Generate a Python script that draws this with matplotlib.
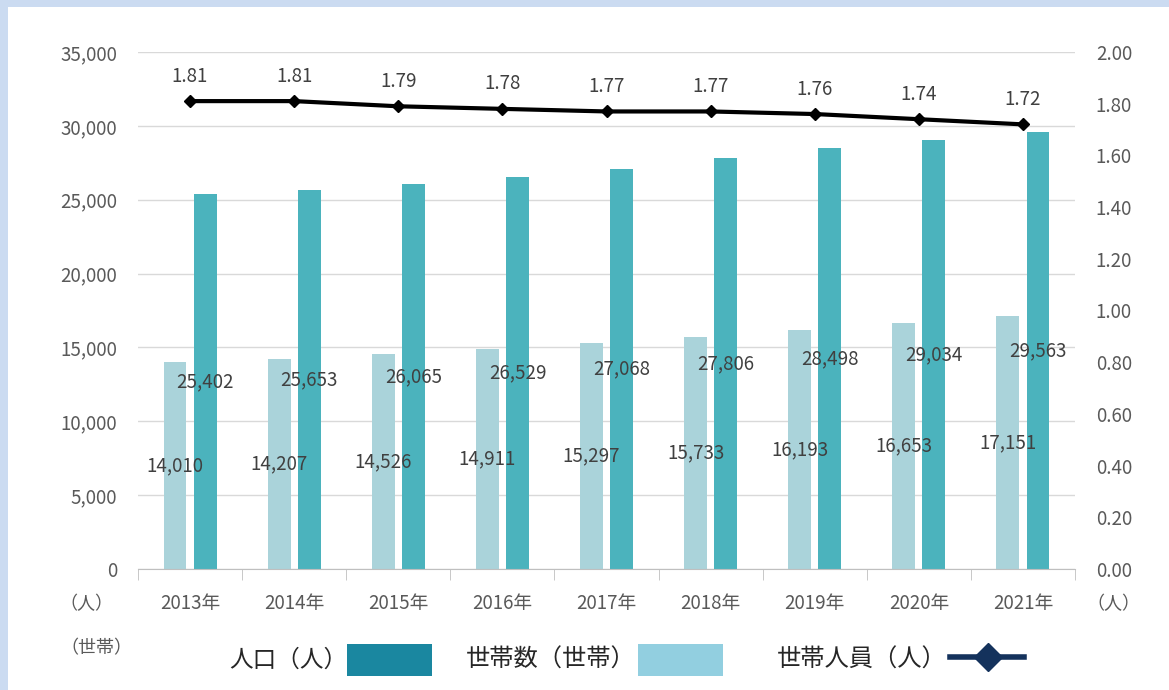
import matplotlib.pyplot as plt
from matplotlib.patches import Rectangle
from matplotlib.lines import Line2D

plt.rcParams['font.family'] = ['Noto Sans CJK JP', 'DejaVu Sans']

years = ['2013年', '2014年', '2015年', '2016年', '2017年', '2018年', '2019年', '2020年', '2021年']
population = [25402, 25653, 26065, 26529, 27068, 27806, 28498, 29034, 29563]
households = [14010, 14207, 14526, 14911, 15297, 15733, 16193, 16653, 17151]
members = [1.81, 1.81, 1.79, 1.78, 1.77, 1.77, 1.76, 1.74, 1.72]

W, H = 1169, 690
c_light = '#aad3da'
c_teal = '#4bb3bd'
c_text = '#595959'
c_label = '#404040'
fs = 13.5

def fx(px):
    return px / W

def fy(py):
    return 1 - py / H

fig = plt.figure(figsize=(W / 100, H / 100), dpi=100)
fig.patch.set_facecolor('#cbdbf1')
fig.patches.append(Rectangle((fx(8), 0), 1, fy(7), transform=fig.transFigure,
                             facecolor='white', edgecolor='none', zorder=-10))

ax = fig.add_axes([fx(138), fy(569), fx(1075) - fx(138), fy(52) - fy(569)])
ax.set_facecolor('none')
x = list(range(len(years)))
off = 0.145
bw = 0.22
ax.bar([i - off for i in x], households, width=bw, color=c_light, zorder=2)
ax.bar([i + off for i in x], population, width=bw, color=c_teal, zorder=2)

for i in x:
    ax.text(i - off, households[i] / 2, f'{households[i]:,}', ha='center', va='center',
            fontsize=fs, color=c_label, zorder=5)
    ax.text(i + off, population[i] / 2, f'{population[i]:,}', ha='center', va='center',
            fontsize=fs, color=c_label, zorder=5)

ax.set_xlim(-0.5, len(years) - 0.5)
ax.set_ylim(0, 35000)
ax.set_yticks(range(0, 35001, 5000))
ax.set_yticklabels([f'{v:,}' for v in range(0, 35001, 5000)])
ax.grid(axis='y', color='#d9d9d9', linewidth=1, zorder=0)
ax.set_axisbelow(True)
ax.set_xticks(x)
ax.set_xticklabels(years)
ax.set_xticks([i - 0.5 for i in range(len(years) + 1)], minor=True)
ax.tick_params(axis='x', which='major', length=0, pad=17, labelsize=fs, labelcolor=c_text)
ax.tick_params(axis='x', which='minor', length=8, color='#bfbfbf', direction='out')
ax.tick_params(axis='y', length=0, pad=15, labelsize=fs, labelcolor=c_text)
for s in ['top', 'left', 'right']:
    ax.spines[s].set_visible(False)
ax.spines['bottom'].set_color('#bfbfbf')

ax2 = ax.twinx()
ax2.set_ylim(0, 2)
ax2.set_yticks([i * 0.2 for i in range(11)])
ax2.set_yticklabels([f'{i * 0.2:.2f}' for i in range(11)])
ax2.tick_params(axis='y', length=0, pad=15, labelsize=fs, labelcolor=c_text)
for s in ax2.spines.values():
    s.set_visible(False)
ax2.plot(x, members, color='black', linewidth=3, marker='D', markersize=6, zorder=4)
for i in x:
    ax2.annotate(f'{members[i]:.2f}', (i, members[i]), xytext=(0, 25), textcoords='offset pixels',
                 ha='center', va='center', fontsize=fs, color=c_label)

# unit labels
fig.text(fx(86), fy(604), '（人）', ha='center', va='center', fontsize=13, color=c_text)
fig.text(fx(96), fy(648), '（世帯）', ha='center', va='center', fontsize=13, color=c_text)
fig.text(fx(1113), fy(604), '（人）', ha='center', va='center', fontsize=13, color=c_text)

# legend
fig.text(fx(229), fy(660), '人口（人）', ha='left', va='center', fontsize=17, color='#262626')
fig.patches.append(Rectangle((fx(347), fy(676)), fx(85), fy(644) - fy(676),
                             transform=fig.transFigure, facecolor='#1a87a0', edgecolor='none'))
fig.text(fx(466), fy(660), '世帯数（世帯）', ha='left', va='center', fontsize=17.5, color='#262626')
fig.patches.append(Rectangle((fx(638), fy(676)), fx(85), fy(644) - fy(676),
                             transform=fig.transFigure, facecolor='#92cfe0', edgecolor='none'))
fig.text(fx(777), fy(660), '世帯人員（人）', ha='left', va='center', fontsize=17.5, color='#262626')
fig.lines.append(Line2D([fx(950), fx(1024)], [fy(657), fy(657)], transform=fig.transFigure,
                        color='#14325c', linewidth=4))
fig.lines.append(Line2D([fx(988)], [fy(657)], transform=fig.transFigure, marker='D',
                        markersize=14, color='#14325c', linestyle='none'))

fig.savefig('out.png', dpi=100)
